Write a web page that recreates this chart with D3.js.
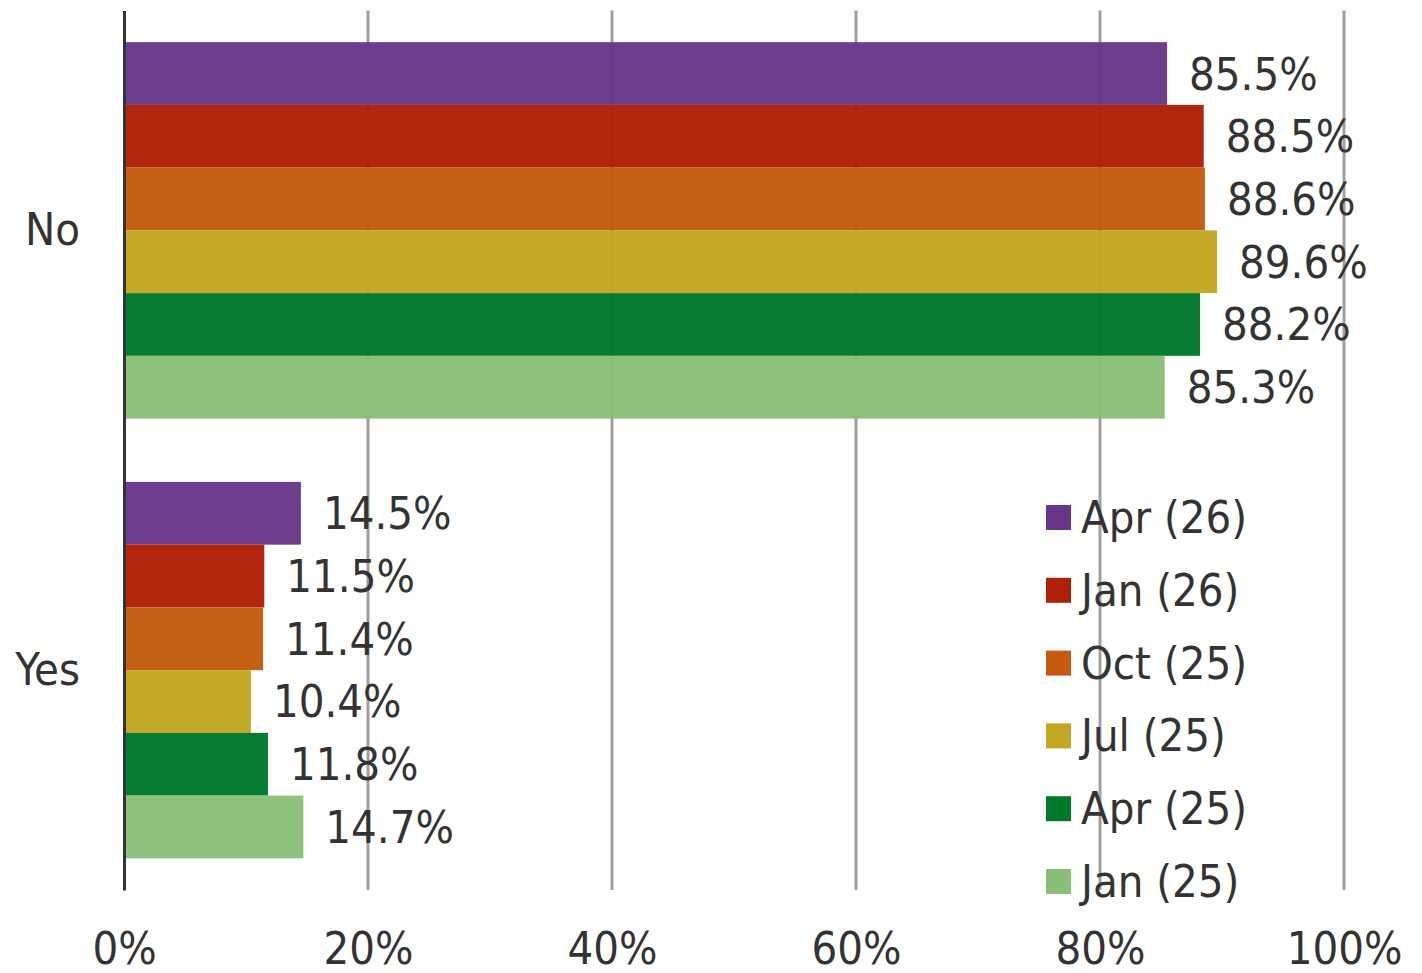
<!DOCTYPE html>
<html>
<head>
<meta charset="utf-8">
<script src="https://cdn.jsdelivr.net/npm/d3@7"></script>
<style>
  body { margin: 0; background: #fff; }
  svg text { font-family: "DejaVu Sans Condensed", "DejaVu Sans", sans-serif; font-stretch: condensed; fill: #333; }
</style>
</head>
<body>
<div id="chart"></div>
<script>
// answers on the y axis
var categories = ["No", "Yes"];
// survey waves, top bar first
var seriesNames = ["Apr (26)", "Jan (26)", "Oct (25)", "Jul (25)", "Apr (25)", "Jan (25)"];
var seriesColors = ["#68378a", "#b01f07", "#c55b10", "#c3a722", "#00782a", "#8abf78"];
// values per series, in category order (No, Yes)
var noValues = [85.5, 88.5, 88.6, 89.6, 88.2, 85.3];
var yesValues = [14.5, 11.5, 11.4, 10.4, 11.8, 14.7];
var xTicks = [0, 20, 40, 60, 80, 100];

var data = [];
seriesNames.forEach(function(s, i) {
  data.push({cat: "No", series: s, value: noValues[i], color: seriesColors[i]});
  data.push({cat: "Yes", series: s, value: yesValues[i], color: seriesColors[i]});
});

var W = 1422, H = 973;
var margin = {top: 10.5, right: 78, bottom: 83, left: 124};
var width = W - margin.left - margin.right,
    height = H - margin.top - margin.bottom;

var svg = d3.select("#chart").append("svg")
    .attr("width", W)
    .attr("height", H)
  .append("g")
    .attr("transform", "translate(" + margin.left + "," + margin.top + ")");

var xScale = d3.scaleLinear().domain([0, 100]).range([0, width]);

var yScale = d3.scaleBand()
    .domain(categories)
    .range([0, height])
    .paddingInner(0.144)
    .paddingOuter(0.072);

var ySub = d3.scaleBand()
    .domain(seriesNames)
    .range([0, yScale.bandwidth()]);

// vertical gridlines
svg.append("g")
  .selectAll("line")
  .data(xTicks.slice(1))
  .enter().append("line")
    .attr("x1", function(d) { return xScale(d); })
    .attr("x2", function(d) { return xScale(d); })
    .attr("y1", 0)
    .attr("y2", height)
    .attr("stroke", "#a0a0a0")
    .attr("stroke-width", 3);

// x axis labels
var xAxis = d3.axisBottom(xScale)
    .tickValues(xTicks)
    .tickSize(0)
    .tickPadding(42)
    .tickFormat(function(d) { return d + "%"; });

var gx = svg.append("g")
    .attr("transform", "translate(0," + height + ")")
    .call(xAxis);
gx.select(".domain").remove();
gx.selectAll("text").attr("font-size", 45).style("fill", "#333");

// bars
svg.append("g")
  .selectAll("rect")
  .data(data)
  .enter().append("rect")
    .attr("x", 0)
    .attr("y", function(d) { return yScale(d.cat) + ySub(d.series); })
    .attr("width", function(d) { return xScale(d.value); })
    .attr("height", ySub.bandwidth())
    .attr("fill", function(d) { return d.color; })
    .attr("fill-opacity", 0.97);

// data labels
svg.append("g")
  .selectAll("text")
  .data(data)
  .enter().append("text")
    .attr("x", function(d) { return xScale(d.value) + 22; })
    .attr("y", function(d) { return yScale(d.cat) + ySub(d.series) + ySub.bandwidth() / 2 + 16; })
    .attr("font-size", 45)
    .text(function(d) { return d.value.toFixed(1) + "%"; });

// y axis line and category labels
var yAxis = d3.axisLeft(yScale).tickSize(0).tickPadding(44);
var gy = svg.append("g").call(yAxis);
gy.select(".domain").attr("stroke", "#333").attr("stroke-width", 3);
gy.selectAll("text").attr("font-size", 45).style("fill", "#333");

// legend
var legend = svg.append("g")
    .attr("transform", "translate(" + (1046 - margin.left) + "," + (505 - margin.top) + ")");

var items = legend.selectAll("g")
  .data(seriesNames)
  .enter().append("g")
    .attr("transform", function(d, i) { return "translate(0," + i * 72.8 + ")"; });

items.append("rect")
    .attr("width", 25)
    .attr("height", 25)
    .attr("fill", function(d, i) { return seriesColors[i]; });

items.append("text")
    .attr("x", 35)
    .attr("y", 28)
    .attr("font-size", 45)
    .text(function(d) { return d; });
</script>
</body>
</html>
